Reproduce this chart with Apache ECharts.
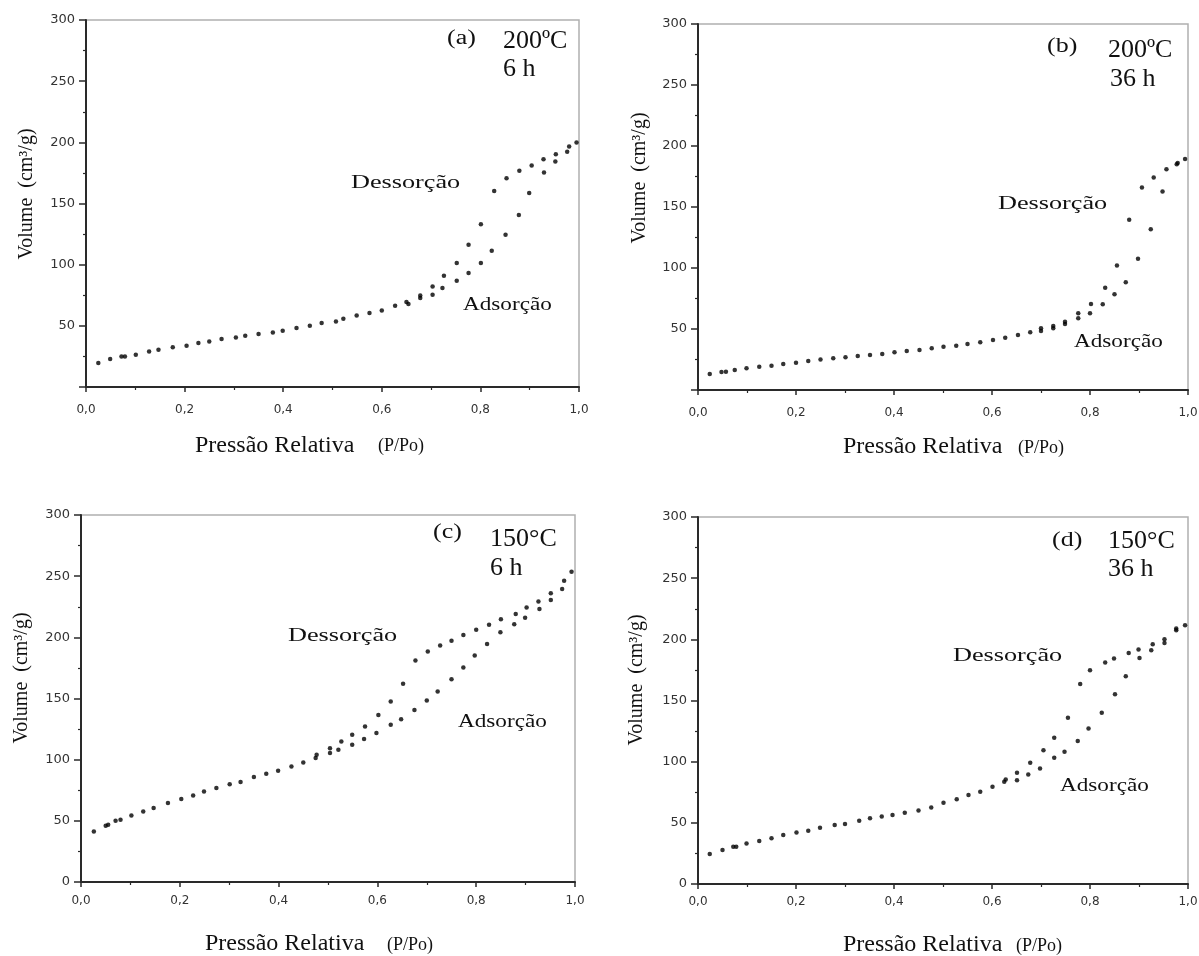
<!DOCTYPE html>
<html><head><meta charset="utf-8">
<script src="https://cdn.jsdelivr.net/npm/echarts@6/dist/echarts.min.js"></script>
<style>html,body{margin:0;padding:0;background:#fff}#c{width:1199px;height:956px}</style>
</head><body><div id="c"></div>
<script>
// ---- tick labels ----
const xTickLabels = ['0,0','0,2','0,4','0,6','0,8','1,0'];
const yTickLabelsNoZero = ['', '50', '100', '150', '200', '250', '300'];
const yTickLabelsWithZero = ['0', '50', '100', '150', '200', '250', '300'];

// ---- panel texts ----
const panelTags = ['(a)', '(b)', '(c)', '(d)'];
const panelTemps = ['200ºC', '200ºC', '150°C', '150°C'];
const panelTimes = ['6 h', '36 h', '6 h', '36 h'];

// ---- (a) 200ºC 6 h ----
const aAdsP = [0.025,0.049,0.072,0.079,0.101,0.128,0.147,0.176,0.204,0.228,0.250,0.275,0.304,0.323,0.350,0.379,0.399,0.427,0.454,0.478,0.507,0.549,0.575,0.600,0.627,0.654,0.678,0.703,0.723,0.752,0.776,0.801,0.823,0.851,0.878,0.899,0.929,0.952,0.976];
const aAdsV = [19.6,22.9,25.0,25.0,26.4,29.1,30.5,32.4,33.7,35.9,37.2,39.2,40.5,41.9,43.3,44.6,46.0,48.2,50.1,52.3,53.6,58.5,60.4,62.6,66.4,67.8,72.7,75.4,80.9,86.8,93.1,101.3,111.3,124.4,140.7,158.5,175.3,184.3,192.4];
const aDesP = [0.995,0.980,0.953,0.928,0.904,0.879,0.853,0.828,0.801,0.776,0.752,0.726,0.703,0.678,0.650,0.522];
const aDesV = [199.8,196.5,190.3,186.2,181.0,176.7,170.7,160.3,133.1,116.2,101.3,90.9,82.2,74.8,69.4,55.8];

// ---- (b) 200ºC 36 h ----
const bAdsP = [0.024,0.048,0.057,0.075,0.099,0.125,0.150,0.174,0.200,0.225,0.250,0.276,0.301,0.326,0.351,0.376,0.401,0.426,0.452,0.477,0.501,0.527,0.550,0.576,0.602,0.627,0.653,0.678,0.700,0.725,0.749,0.776,0.800,0.826,0.850,0.873,0.898,0.924,0.948,0.977];
const bAdsV = [13.1,14.8,15.0,16.4,17.8,19.1,19.9,21.3,22.4,23.8,24.9,26.0,26.8,27.9,28.7,29.5,30.9,32.0,32.8,34.2,35.5,36.3,37.7,39.1,41.0,42.9,45.1,47.3,48.4,50.6,54.1,58.8,62.9,70.3,78.5,88.3,107.5,131.8,162.7,185.1];
const bDesP = [0.994,0.979,0.956,0.930,0.906,0.880,0.855,0.831,0.802,0.776,0.749,0.725,0.700];
const bDesV = [189.3,186.0,181.0,174.2,166.0,139.5,102.0,83.9,70.5,62.9,56.0,52.5,50.6];

// ---- (c) 150°C 6 h ----
const cAdsP = [0.026,0.050,0.055,0.070,0.080,0.102,0.126,0.147,0.176,0.203,0.227,0.249,0.274,0.301,0.323,0.350,0.375,0.399,0.426,0.450,0.475,0.504,0.521,0.549,0.573,0.598,0.627,0.648,0.675,0.700,0.722,0.750,0.774,0.797,0.822,0.849,0.877,0.899,0.928,0.951,0.974];
const cAdsV = [41.3,46.0,46.8,50.1,50.9,54.4,57.7,60.4,64.5,67.8,70.7,74.0,76.8,80.0,81.7,85.8,88.5,90.9,94.4,97.7,101.3,105.4,108.1,112.1,116.8,121.7,128.5,133.1,140.7,148.3,155.7,165.8,175.3,185.1,194.6,204.2,210.7,216.1,223.2,230.6,239.6];
const cDesP = [0.993,0.978,0.951,0.926,0.902,0.880,0.850,0.826,0.800,0.774,0.750,0.727,0.702,0.677,0.652,0.627,0.602,0.575,0.549,0.527,0.504,0.477];
const cDesV = [253.7,246.3,236.0,229.2,224.3,219.1,214.8,210.2,206.1,202.0,197.3,193.3,188.4,181.0,162.0,147.5,136.6,127.1,120.3,114.8,109.4,104.0];

// ---- (d) 150°C 36 h ----
const dAdsP = [0.024,0.050,0.072,0.078,0.099,0.125,0.150,0.174,0.201,0.225,0.249,0.279,0.300,0.329,0.351,0.375,0.397,0.422,0.450,0.476,0.501,0.528,0.552,0.576,0.601,0.625,0.651,0.674,0.698,0.727,0.748,0.775,0.797,0.824,0.851,0.873,0.901,0.925,0.952,0.976];
const dAdsV = [24.5,27.8,30.5,30.5,33.2,35.1,37.3,40.0,42.2,43.5,46.0,48.2,49.0,51.7,53.7,55.1,56.4,58.2,60.0,62.6,66.4,69.2,72.7,75.4,79.5,83.6,84.9,89.6,94.5,103.2,108.1,116.8,127.2,139.9,155.2,169.9,184.8,191.1,197.1,207.5];
const dDesP = [0.994,0.976,0.952,0.928,0.899,0.879,0.849,0.831,0.800,0.780,0.755,0.727,0.705,0.678,0.651,0.628];
const dDesV = [211.5,208.8,200.1,196.0,191.7,188.9,184.3,181.1,174.8,163.4,135.8,119.5,109.4,99.1,90.9,85.5];

const panelsData = [
  {ads: [aAdsP, aAdsV], des: [aDesP, aDesV], yLabels: yTickLabelsNoZero},
  {ads: [bAdsP, bAdsV], des: [bDesP, bDesV], yLabels: yTickLabelsNoZero},
  {ads: [cAdsP, cAdsV], des: [cDesP, cDesV], yLabels: yTickLabelsWithZero},
  {ads: [dAdsP, dAdsV], des: [dDesP, dDesV], yLabels: yTickLabelsWithZero}
];

// ---- layout (pixels) ----
const layout = [
  {left: 86, top: 20, width: 493, height: 367, xMargin: 17,
   tag: [447, 39], temp: [503, 41], time: [503, 69], des: [351, 183], ads: [463, 305],
   yTitle: [27, 194], xTitle: [195, 446], pPo: [378, 446]},
  {left: 698, top: 24, width: 490, height: 366, xMargin: 17,
   tag: [1047, 47], temp: [1108, 50], time: [1110, 79], des: [998, 204], ads: [1074, 342],
   yTitle: [640, 178], xTitle: [843, 447], pPo: [1018, 448]},
  {left: 81, top: 515, width: 494, height: 367, xMargin: 13,
   tag: [433, 533], temp: [490, 539], time: [490, 568], des: [288, 636], ads: [458, 722],
   yTitle: [22, 678], xTitle: [205, 944], pPo: [387, 945]},
  {left: 698, top: 517, width: 490, height: 367, xMargin: 12,
   tag: [1052, 541], temp: [1108, 541], time: [1108, 569], des: [953, 656], ads: [1060, 786],
   yTitle: [637, 680], xTitle: [843, 945], pPo: [1016, 946]}
];

const SERIF = '"Liberation Serif", "Times New Roman", serif';
const SANS = '"DejaVu Sans", "Liberation Sans", Arial, sans-serif';

const grids = [], xAxes = [], yAxes = [], series = [], graphics = [];

function txt(x, y, text, size, opts) {
  opts = opts || {};
  return {
    type: 'text', x: x, y: y, rotation: opts.rotation || 0,
    scaleX: opts.scaleX || 1, silent: true, z: 100,
    style: {
      text: text, x: 0, y: 0,
      font: size + 'px ' + SERIF,
      fill: '#111',
      textAlign: opts.align || 'left',
      textVerticalAlign: 'middle'
    }
  };
}

panelsData.forEach((p, i) => {
  const L = layout[i];
  grids.push({left: L.left, top: L.top, width: L.width, height: L.height,
    show: true, borderColor: '#b0b0b0', borderWidth: 1.5, backgroundColor: '#fff',
    outerBoundsMode: 'none', containLabel: false});
  xAxes.push({
    type: 'value', gridIndex: i, min: 0, max: 1, interval: 0.2,
    axisLine: {show: true, onZero: false, lineStyle: {color: '#2a2a2a', width: 2}},
    axisTick: {show: true, inside: false, length: 5, lineStyle: {color: '#2a2a2a', width: 1.5}},
    minorTick: {show: true, splitNumber: 2, length: 3, lineStyle: {color: '#2a2a2a', width: 1.2}},
    splitLine: {show: false},
    axisLabel: {margin: L.xMargin, color: '#333', fontFamily: SANS, fontSize: 12,
      formatter: v => xTickLabels[Math.round(v / 0.2)]}
  });
  yAxes.push({
    type: 'value', gridIndex: i, min: 0, max: 300, interval: 50,
    axisLine: {show: true, onZero: false, lineStyle: {color: '#2a2a2a', width: 2}},
    axisTick: {show: true, inside: false, length: 7, lineStyle: {color: '#2a2a2a', width: 1.5}},
    minorTick: {show: true, splitNumber: 2, length: 3, lineStyle: {color: '#2a2a2a', width: 1.2}},
    splitLine: {show: false},
    axisLabel: {margin: 11, color: '#333', fontFamily: SANS, fontSize: 13,
      formatter: v => p.yLabels[Math.round(v / 50)]}
  });
  const zip = (xs, ys) => xs.map((x, k) => [x, ys[k]]);
  series.push({type: 'scatter', name: 'Adsorção', xAxisIndex: i, yAxisIndex: i,
    data: zip(p.ads[0], p.ads[1]), symbol: 'circle', symbolSize: 4.5,
    itemStyle: {color: '#000'}, silent: true});
  series.push({type: 'scatter', name: 'Dessorção', xAxisIndex: i, yAxisIndex: i,
    data: zip(p.des[0], p.des[1]), symbol: 'circle', symbolSize: 4.5,
    itemStyle: {color: '#000'}, silent: true});

  graphics.push(txt(L.tag[0], L.tag[1], panelTags[i], 20, {scaleX: 1.3}));
  graphics.push(txt(L.temp[0], L.temp[1], panelTemps[i], 26));
  graphics.push(txt(L.time[0], L.time[1], panelTimes[i], 26));
  graphics.push(txt(L.des[0], L.des[1], 'Dessorção', 19, {scaleX: 1.38}));
  graphics.push(txt(L.ads[0], L.ads[1], 'Adsorção', 19, {scaleX: 1.22}));
  graphics.push(txt(L.yTitle[0], L.yTitle[1], 'Volume  (cm³/g)', 20, {rotation: Math.PI / 2, align: 'center'}));
  graphics.push(txt(L.xTitle[0], L.xTitle[1], 'Pressão Relativa', 24));
  graphics.push(txt(L.pPo[0], L.pPo[1], '(P/Po)', 18));
});

const chart = echarts.init(document.getElementById('c'), null, {renderer: 'canvas'});
chart.setOption({
  backgroundColor: '#fff',
  animation: false,
  grid: grids, xAxis: xAxes, yAxis: yAxes, series: series,
  graphic: {elements: graphics}
});
</script>
</body></html>
